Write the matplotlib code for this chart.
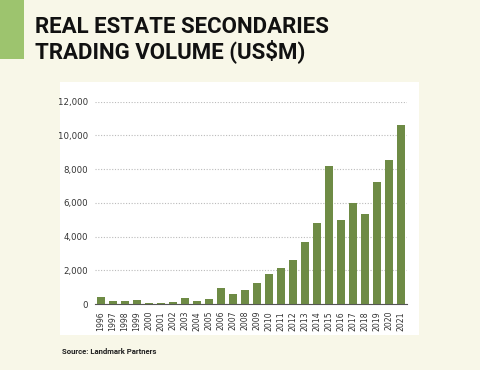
import matplotlib.pyplot as plt
from matplotlib.patches import Rectangle

# trading volume, US$m
years = [str(y) for y in range(1996, 2022)]
volume = [415, 200, 180, 257, 60, 60, 120, 355, 200, 315, 930, 570, 830,
          1230, 1800, 2150, 2590, 3680, 4780, 8180, 5000, 6010, 5320, 7210,
          8540, 10630]
yticks = [0, 2000, 4000, 6000, 8000, 10000, 12000]

bg = "#f8f7e8"
bar_col = "#6e8b45"

fig = plt.figure(figsize=(4.8, 3.7), dpi=100, facecolor=bg)

# white panel behind the chart
fig.patches.append(Rectangle((60/480, 1 - 335/370), 359/480, (335 - 82)/370,
                             transform=fig.transFigure, facecolor="white",
                             edgecolor="none", zorder=-5))
# green marker next to the title
fig.patches.append(Rectangle((0, 1 - 59/370), 24/480, 59/370,
                             transform=fig.transFigure, facecolor="#9dc46e",
                             edgecolor="none", zorder=-5))

fig.text(35/480, 1 - 33/370, "REAL ESTATE SECONDARIES", fontsize=16,
         fontweight="bold", family="Roboto", color="#111111", va="baseline")
fig.text(35/480, 1 - 58/370, "TRADING VOLUME (US$M)", fontsize=16,
         fontweight="bold", family="Roboto", color="#111111", va="baseline")

ax = fig.add_axes([95/480, 1 - 304/370, 312/480, (304 - 101.7)/370])
ax.set_facecolor("none")
x = range(len(years))
ax.bar(x, volume, width=0.67, color=bar_col, zorder=3)
ax.set_xlim(-0.5, len(years) - 0.5)
ax.set_ylim(0, 12000)
ax.set_yticks(yticks)
ax.set_yticklabels([f"{v:,}" for v in yticks], family="DejaVu Sans",
                   fontstretch="condensed", fontsize=6.8, color="#333333")
ax.set_xticks(list(x))
ax.set_xticklabels(years, rotation=90, family="DejaVu Sans",
                   fontstretch="condensed", fontsize=6.2, color="#333333")
ax.tick_params(axis="y", length=0, pad=5)
ax.tick_params(axis="x", length=0, pad=5)
ax.grid(axis="y", linestyle=(0, (1, 1.5)), color="#bbbbbb", linewidth=0.8,
        zorder=0)
for s in ["top", "right", "left"]:
    ax.spines[s].set_visible(False)
ax.spines["bottom"].set_color("#555555")
ax.spines["bottom"].set_linewidth(0.8)

fig.text(62/480, 1 - 354/370, "Source: Landmark Partners", fontsize=5.6,
         fontweight="bold", family="Roboto", color="#222222")

fig.savefig("out.png", dpi=100, facecolor=bg)
